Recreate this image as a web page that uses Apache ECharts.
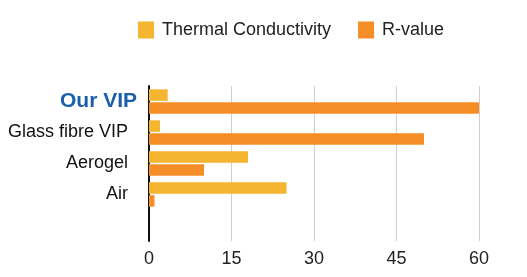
<!DOCTYPE html>
<html>
<head>
<meta charset="utf-8">
<script src="https://cdn.jsdelivr.net/npm/echarts@6/dist/echarts.min.js"></script>
<style>
  html, body { margin: 0; padding: 0; background: #fff; }
  #chart { width: 527px; height: 277px; }
</style>
</head>
<body>
<div id="chart"></div>
<script>
// data
var categories = ['Our VIP', 'Glass fibre VIP', 'Aerogel', 'Air', ''];
var thermalConductivity = [3.4, 2, 18, 25, null];
var rValue = [60, 50, 10, 1, null];
var xTicks = [0, 15, 30, 45, 60];

var myChart = echarts.init(document.getElementById('chart'));

var option = {
  backgroundColor: '#fff',
  textStyle: { fontFamily: 'Liberation Sans' },
  legend: {
    top: 16,
    left: 133,
    itemWidth: 16,
    itemHeight: 17,
    itemGap: 27,
    icon: 'rect',
    textStyle: { fontSize: 18, color: '#222', padding: [0, 0, 0, 3] },
    data: ['Thermal Conductivity', 'R-value']
  },
  grid: { left: 149, right: 48, top: 86, bottom: 36 },
  xAxis: {
    type: 'value',
    min: 0,
    max: xTicks[xTicks.length - 1],
    interval: 15,
    axisLine: { show: false },
    axisTick: { show: false },
    splitLine: { lineStyle: { color: '#cfcfcf', width: 1 } },
    axisLabel: { fontSize: 18, color: '#222', margin: 9 }
  },
  yAxis: {
    type: 'category',
    inverse: true,
    data: categories,
    axisLine: { lineStyle: { color: '#111', width: 2 } },
    axisTick: { show: false },
    axisLabel: {
      margin: 21,
      fontSize: 18,
      color: '#111',
      formatter: function (v) {
        return v === 'Our VIP' ? '{hl|' + v + '}' : v;
      },
      rich: {
        hl: { fontSize: 21, fontWeight: 'bold', color: '#1a5fae', padding: [0, -9, 0, 0] }
      }
    }
  },
  series: [
    {
      name: 'Thermal Conductivity',
      type: 'bar',
      barWidth: 11.5,
      barGap: '12%',
      itemStyle: { color: '#f5b530' },
      data: thermalConductivity
    },
    {
      name: 'R-value',
      type: 'bar',
      barWidth: 11.5,
      barGap: '12%',
      itemStyle: { color: '#f68e27' },
      data: rValue
    }
  ]
};

myChart.setOption(option);
</script>
</body>
</html>
